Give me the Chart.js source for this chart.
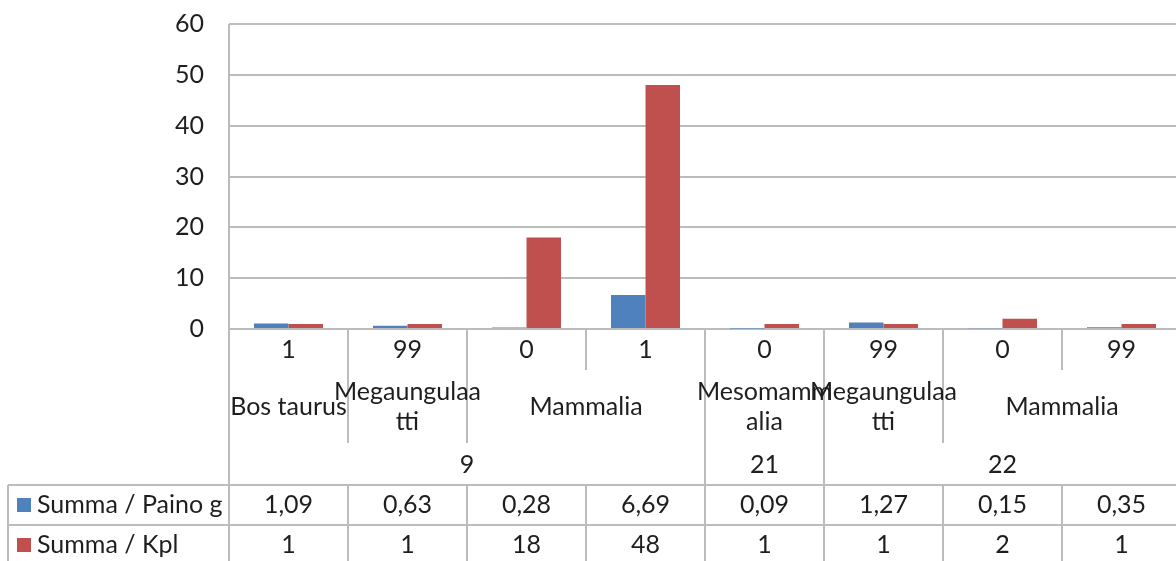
<!DOCTYPE html>
<html>
<head>
<meta charset="utf-8">
<title>Summa / Paino g ja Summa / Kpl</title>
<script src="https://cdn.jsdelivr.net/npm/chart.js@4.4.1/dist/chart.umd.min.js"></script>
<style>
  html, body { margin: 0; padding: 0; background: #fff; overflow: hidden; }
  #wrap { width: 1200px; height: 561px; }
</style>
</head>
<body>
<div id="wrap"><canvas id="c" width="1200" height="561"></canvas></div>
<script>
// Category hierarchy (outermost to innermost), one entry per column
const kerrokset = ['9', '9', '9', '9', '21', '22', '22', '22'];
const taksonit = ['Bos taurus', 'Megaungulaa\ntti', 'Mammalia', 'Mammalia',
                  'Mesomamm\nalia', 'Megaungulaa\ntti', 'Mammalia', 'Mammalia'];
const koodit = ['1', '99', '0', '1', '0', '99', '0', '99'];

// Series values
const painoG = [1.09, 0.63, 0.28, 6.69, 0.09, 1.27, 0.15, 0.35];
const kpl = [1, 1, 18, 48, 1, 1, 2, 1];

const sarjat = ['Summa / Paino g', 'Summa / Kpl'];
const yTicks = [0, 10, 20, 30, 40, 50, 60];

const FONT_FAMILY = 'Lato, "Open Sans", sans-serif';
const FONT_SIZE = 25;
const INK = '#1e1e1e';
const LINE = '#bcbcbc';
const COLORS = ['#4F81BD', '#C0504D'];

const fmt = v => Number.isInteger(v) ? String(v) : v.toFixed(2).replace('.', ',');

// Draws the multi-level category axis and the data table below the plot
const categoryTable = {
  id: 'categoryTable',
  afterDraw(chart) {
    const { ctx, chartArea: a, scales: { x } } = chart;
    const n = koodit.length;
    const w = x.getPixelForValue(1) - x.getPixelForValue(0);
    const left = i => x.getPixelForValue(i) - w / 2;
    const b = a.bottom;
    const codeY = b + 21;
    const taxonY = b + 78;
    const layerY = b + 136;
    const tableTop = b + 156;
    const rowH = 40;
    const tableBottom = tableTop + 2 * rowH;
    const tableLeft = 8;

    ctx.save();
    ctx.strokeStyle = LINE;
    ctx.lineWidth = 2;
    ctx.beginPath();
    // axis line continues through the category area and table
    ctx.moveTo(a.left, a.top); ctx.lineTo(a.left, tableBottom + 4);
    // column dividers
    for (let i = 1; i < n; i++) {
      const px = Math.round(left(i));
      let end;
      if (kerrokset[i] !== kerrokset[i - 1]) end = tableBottom + 4;
      else if (taksonit[i] !== taksonit[i - 1]) end = b + 114;
      else end = b + 41;
      ctx.moveTo(px, b); ctx.lineTo(px, end);
      ctx.moveTo(px, tableTop); ctx.lineTo(px, tableBottom + 4);
    }
    const rightEdge = left(n);
    ctx.moveTo(rightEdge, b); ctx.lineTo(rightEdge, tableBottom + 4);
    // table rows
    for (let r = 0; r <= 2; r++) {
      const yy = tableTop + r * rowH;
      ctx.moveTo(tableLeft, yy); ctx.lineTo(rightEdge, yy);
    }
    ctx.moveTo(tableLeft, tableTop); ctx.lineTo(tableLeft, tableBottom + 4);
    ctx.stroke();

    ctx.fillStyle = INK;
    ctx.font = FONT_SIZE + 'px ' + FONT_FAMILY;
    ctx.textAlign = 'center';
    ctx.textBaseline = 'middle';

    // innermost level
    koodit.forEach((c, i) => ctx.fillText(c, x.getPixelForValue(i), codeY));

    // grouped levels
    const groups = (keys) => {
      const out = [];
      keys.forEach((k, i) => {
        const last = out[out.length - 1];
        if (last && last.key === k) last.end = i;
        else out.push({ key: k, start: i, end: i });
      });
      return out;
    };
    const taxonKeys = taksonit.map((t, i) => kerrokset[i] + '|' + t);
    groups(taxonKeys).forEach(g => {
      const cx = (left(g.start) + left(g.end + 1)) / 2;
      const lines = taksonit[g.start].split('\n');
      const lh = 30;
      lines.forEach((ln, k) => {
        ctx.fillText(ln, cx, taxonY + (k - (lines.length - 1) / 2) * lh);
      });
    });
    groups(kerrokset).forEach(g => {
      const cx = (left(g.start) + left(g.end + 1)) / 2;
      ctx.fillText(g.key, cx, layerY);
    });

    // data table
    [painoG, kpl].forEach((vals, r) => {
      const cy = tableTop + r * rowH + rowH / 2;
      vals.forEach((v, i) => ctx.fillText(fmt(v), x.getPixelForValue(i), cy));
      ctx.fillStyle = COLORS[r];
      ctx.fillRect(17, cy - 7, 14, 14);
      ctx.fillStyle = INK;
      ctx.textAlign = 'left';
      ctx.fillText(sarjat[r], 37, cy);
      ctx.textAlign = 'center';
    });
    ctx.restore();
  }
};

new Chart(document.getElementById('c'), {
  type: 'bar',
  data: {
    labels: koodit,
    datasets: [
      { label: sarjat[0], data: painoG, backgroundColor: COLORS[0] },
      { label: sarjat[1], data: kpl, backgroundColor: COLORS[1] }
    ]
  },
  options: {
    responsive: false,
    animation: false,
    events: [],
    layout: { padding: { top: 24, right: 19, left: 0, bottom: 0 } },
    datasets: { bar: { categoryPercentage: 0.58, barPercentage: 1, borderWidth: 0 } },
    plugins: { legend: { display: false }, tooltip: { enabled: false } },
    scales: {
      x: {
        ticks: { display: false },
        grid: { display: false },
        border: { display: false },
        afterFit: s => { s.height = 232; s.paddingLeft = 0; s.paddingRight = 0; }
      },
      y: {
        min: 0, max: 60,
        afterBuildTicks: s => { s.ticks = yTicks.map(v => ({ value: v })); },
        ticks: {
          color: INK,
          padding: 25,
          font: { family: FONT_FAMILY, size: FONT_SIZE }
        },
        grid: { color: LINE, lineWidth: 2, drawTicks: false },
        border: { display: false },
        afterFit: s => { s.width = 229; s.paddingTop = 0; s.paddingBottom = 0; }
      }
    }
  },
  plugins: [categoryTable]
});
</script>
</body>
</html>
